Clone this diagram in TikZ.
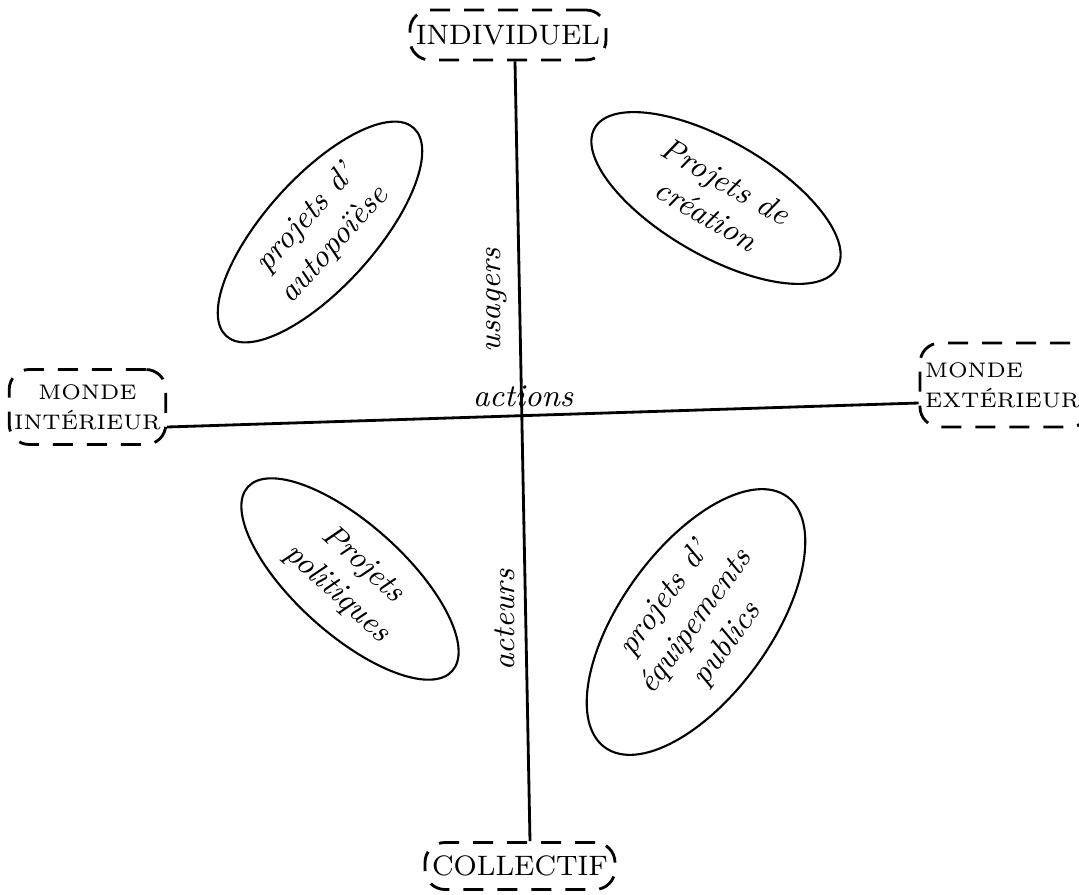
\documentclass[tikz,border=0pt]{standalone}
\usepackage{tikz}
\usetikzlibrary{positioning}
\usetikzlibrary{shapes.geometric}

\begin{document}
\begin{tikzpicture}[x=1mm,y=1mm,
  box/.style={rectangle,draw,thick,dashed,dash pattern=on 2mm off 1.4mm,rounded corners=2mm,font=\footnotesize,inner sep=0.6mm},
  sidebox/.style={box,font=\fontsize{6pt}{8.5pt}\selectfont,inner xsep=0.5mm},
  blob/.style={ellipse,draw,semithick,inner sep=0pt,font=\small\itshape,align=center},
  word/.style={font=\small\itshape,inner sep=0.5mm}]

  \clip (0,0) rectangle (107.9,89.4);

  % Mitte
  \coordinate (O) at (52.3,47.8);
  \node[word] (actions) [above=0.3mm of O,anchor=south] {actions};

  % Pole
  \node[box,minimum width=19mm,minimum height=5mm] (indiv) [above left=38.1mm and 1.5mm of O,anchor=center] {INDIVIDUEL};
  \node[box,minimum width=19mm,minimum height=4.7mm] (coll) [below left=45mm and 0.3mm of O,anchor=center] {COLLECTIF};
  \node[sidebox,align=center,minimum width=15.5mm,minimum height=7.5mm] (mint) [above left=0.9mm and 43.55mm of O,anchor=center] {MONDE\\INTÉRIEUR};
  \node[sidebox,align=left,text width=16mm,minimum height=8.4mm] (mext) [above right=3.1mm and 48.2mm of O,anchor=center] {MONDE\\EXTÉRIEUR};

  % Achsenbeschriftung
  \node[word,rotate=90] (usagers) [above left=11.6mm and 2.6mm of O,anchor=center] {usagers};
  \node[word,rotate=90] (acteurs) [below left=20.4mm and 1.8mm of O,anchor=center] {acteurs};

  % Quadranten
  \node[blob,rotate=48,minimum width=28mm,minimum height=11mm] (autopo) [above left=18.4mm and 20.3mm of O,anchor=center] {projets d'\\autopoïèse};
  \node[blob,rotate=-30,minimum width=28mm,minimum height=11.5mm] (creation) [above right=21.8mm and 19.3mm of O,anchor=center] {Projets de\\création};
  \node[blob,rotate=-42,minimum width=27.5mm,minimum height=11mm] (polit) [below left=16.3mm and 17.3mm of O,anchor=center] {Projets\\politiques};
  \node[blob,rotate=54,minimum width=31mm,minimum height=12.5mm] (equip) [below right=20.6mm and 17.3mm of O,anchor=center] {projets d'\\équipements\\publics};

  \path[thick]
    ([xshift=0.7mm]indiv.south) edge ([xshift=1mm]coll.north)
    ([yshift=-2mm]mint.east) edge ([yshift=-1.8mm]mext.west);

\end{tikzpicture}
\end{document}
